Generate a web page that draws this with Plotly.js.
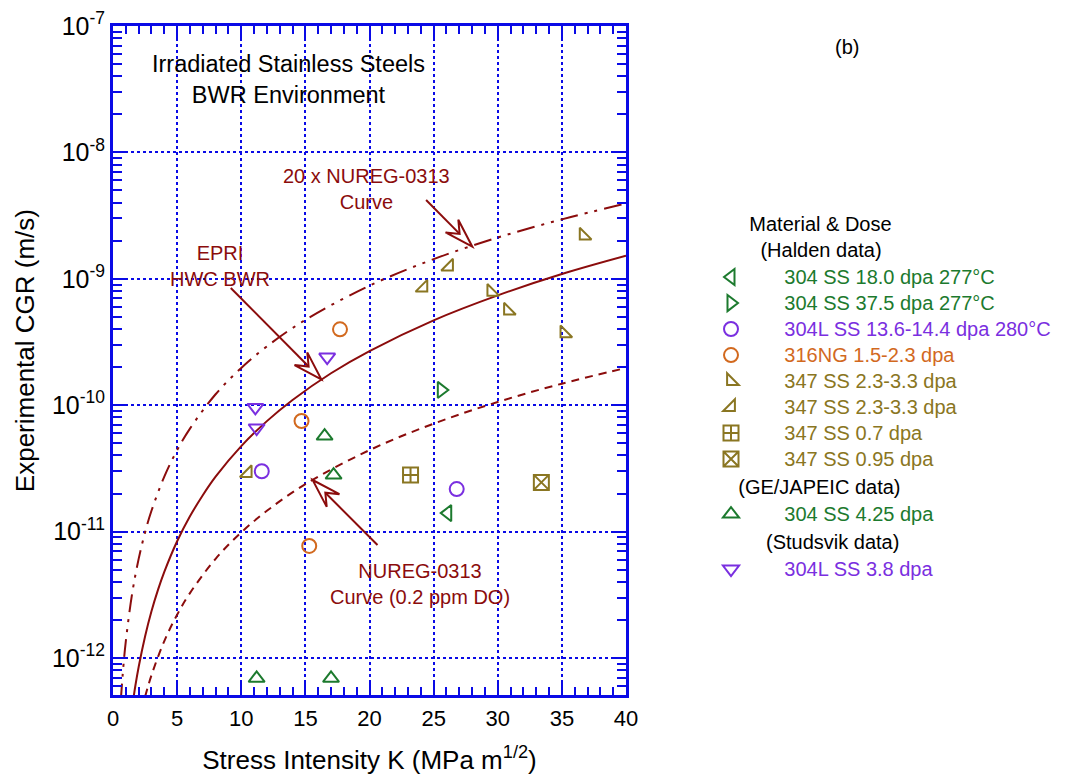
<!DOCTYPE html>
<html>
<head>
<meta charset="utf-8">
<script src="https://cdn.plot.ly/plotly-3.0.1.min.js"></script>
<style>html,body{margin:0;padding:0;background:#fff;}#chart{width:1067px;height:778px;}</style>
</head>
<body>
<div id="chart"></div>
<script>
// ---------- data ----------
// Curves (K in MPa m^1/2, CGR in m/s)
const curve20xK   = [0.6, 0.8, 1, 1.5, 2, 2.5, 3, 4, 5, 6, 8, 10, 12, 15, 20, 25, 30, 35, 40];
const curve20xCGR = [4.5e-13, 8.4e-13, 1.36e-12, 3.27e-12, 6.08e-12, 9.85e-12, 1.46e-11, 2.72e-11, 4.41e-11, 6.53e-11, 1.22e-10, 1.97e-10, 2.92e-10, 4.73e-10, 8.82e-10, 1.43e-9, 2.12e-9, 2.95e-9, 3.94e-9];
const curveEpriK   = [1.5, 1.75, 2, 2.5, 3, 3.5, 4, 5, 6, 7, 8, 10, 12, 14, 17, 20, 25, 30, 35, 40];
const curveEpriCGR = [4.13e-13, 6.08e-13, 8.49e-13, 1.48e-12, 2.34e-12, 3.44e-12, 4.8e-12, 8.39e-12, 1.32e-11, 1.94e-11, 2.72e-11, 4.74e-11, 7.48e-11, 1.10e-10, 1.79e-10, 2.68e-10, 4.69e-10, 7.39e-10, 1.09e-9, 1.52e-9];
const curveNuregK   = [2.5, 3, 4, 5, 6, 8, 10, 12, 15, 20, 25, 30, 35, 40];
const curveNuregCGR = [4.93e-13, 7.3e-13, 1.36e-12, 2.2e-12, 3.26e-12, 6.09e-12, 9.85e-12, 1.46e-11, 2.37e-11, 4.41e-11, 7.14e-11, 1.06e-10, 1.48e-10, 1.97e-10];

// Halden data
const ss304_180K = [26.1],  ss304_180CGR = [1.40e-11];
const ss304_375K = [25.6],  ss304_375CGR = [1.32e-10];
const ss304L_136K = [11.6, 26.8], ss304L_136CGR = [3.0e-11, 2.17e-11];
const ng316K = [17.7, 14.7, 15.3], ng316CGR = [3.98e-10, 7.5e-11, 7.7e-12];
const ss347aK = [36.7, 29.5, 30.8, 35.2], ss347aCGR = [2.2e-9, 7.9e-10, 5.6e-10, 3.7e-10];
const ss347bK = [26.2, 24.2, 10.5], ss347bCGR = [1.25e-9, 8.5e-10, 2.9e-11];
const ss347_07K = [23.2], ss347_07CGR = [2.8e-11];
const ss347_095K = [33.4], ss347_095CGR = [2.45e-11];
// GE/JAPEIC data
const ge304K = [16.5, 17.2, 11.2, 17.0], ge304CGR = [5.7e-11, 2.8e-11, 6.9e-13, 6.9e-13];
// Studsvik data
const st304LK = [16.7, 11.1, 11.2], st304LCGR = [2.4e-10, 9.6e-11, 6.6e-11];

// Tick labels
const xTickVals = [0, 5, 10, 15, 20, 25, 30, 35, 40];
const yTickVals = [1e-12, 1e-11, 1e-10, 1e-9, 1e-8, 1e-7];
const yTickText = ['10<sup>-12</sup>', '10<sup>-11</sup>', '10<sup>-10</sup>', '10<sup>-9</sup>', '10<sup>-8</sup>', '10<sup>-7</sup>'];

// Legend labels
const legendLabels = ['304 SS 18.0 dpa 277°C', '304 SS 37.5 dpa 277°C', '304L SS 13.6-14.4 dpa 280°C', '316NG 1.5-2.3 dpa',
  '347 SS 2.3-3.3 dpa', '347 SS 2.3-3.3 dpa', '347 SS 0.7 dpa', '347 SS 0.95 dpa', '304 SS 4.25 dpa', '304L SS 3.8 dpa'];
const groupTitles = ['Material & Dose', '(Halden data)', '(GE/JAPEIC data)', '(Studsvik data)'];

// ---------- styling ----------
const FONT = 'Liberation Sans, Arial, Helvetica, sans-serif';
const GREEN = '#1c7a2e', PURPLE = '#7a2fe0', ORANGE = '#d2691e', OLIVE = '#8a7622', DARKRED = '#8b0c0c', BLUE = '#0a0ae6';
const NB = '\u00a0';
function pad(n) { return NB.repeat(n); }

function lab(i, c) { return '<span style="color:' + c + ';font-size:20px">' + pad(6) + legendLabels[i] + '</span>'; }
function pts(x, y, sym, color, size, name, group, gtitle) {
  const t = {
    x: x, y: y, type: 'scatter', mode: 'markers', name: name,
    legendgroup: group,
    marker: {symbol: sym, size: size, color: color, line: {color: color, width: 2}},
    hoverinfo: 'x+y'
  };
  if (gtitle) t.legendgrouptitle = {text: gtitle, font: {size: 20, color: '#000', family: FONT}};
  return t;
}

const traces = [
  {x: curve20xK, y: curve20xCGR, type: 'scatter', mode: 'lines', showlegend: false, hoverinfo: 'skip',
   line: {color: DARKRED, width: 2, dash: '18px,7px,3px,7px,3px,7px', shape: 'spline'}},
  {x: curveEpriK, y: curveEpriCGR, type: 'scatter', mode: 'lines', showlegend: false, hoverinfo: 'skip',
   line: {color: DARKRED, width: 2, shape: 'spline'}},
  {x: curveNuregK, y: curveNuregCGR, type: 'scatter', mode: 'lines', showlegend: false, hoverinfo: 'skip',
   line: {color: DARKRED, width: 2, dash: '8px,6px', shape: 'spline'}},
  pts(ss304_180K, ss304_180CGR, 'triangle-left-open', GREEN, 14, lab(0, GREEN), 'halden', pad(6) + groupTitles[0] + '<br>' + pad(8) + groupTitles[1]),
  pts(ss304_375K, ss304_375CGR, 'triangle-right-open', GREEN, 14, lab(1, GREEN), 'halden'),
  pts(ss304L_136K, ss304L_136CGR, 'circle-open', PURPLE, 14, lab(2, PURPLE), 'halden'),
  pts(ng316K, ng316CGR, 'circle-open', ORANGE, 14, lab(3, ORANGE), 'halden'),
  pts(ss347aK, ss347aCGR, 'triangle-sw-open', OLIVE, 13, lab(4, OLIVE), 'halden'),
  pts(ss347bK, ss347bCGR, 'triangle-se-open', OLIVE, 13, lab(5, OLIVE), 'halden'),
  pts(ss347_07K, ss347_07CGR, 'square-cross-open', OLIVE, 15, lab(6, OLIVE), 'halden'),
  pts(ss347_095K, ss347_095CGR, 'square-x-open', OLIVE, 15, lab(7, OLIVE), 'halden'),
  pts(ge304K, ge304CGR, 'triangle-up-open', GREEN, 14, lab(8, GREEN), 'ge', pad(4) + groupTitles[2]),
  pts(st304LK, st304LCGR, 'triangle-down-open', PURPLE, 14, lab(9, PURPLE), 'studsvik', pad(9) + groupTitles[3])
];

// minor tick positions (axis decoration only)
const yMinor = [];
for (let e = -13; e <= -8; e++) for (let d = 2; d <= 9; d++) yMinor.push(d * Math.pow(10, e));

// ---------- layout geometry ----------
const M = {l: 113, r: 440, t: 26, b: 83};
const PW = 1067 - M.l - M.r, PH = 778 - M.t - M.b;
function px(x) { return (x - M.l) / PW; }
function py(y) { return (778 - M.b - y) / PH; }

// callout arrows (tail pixel -> tip pixel), drawn with an open arrowhead
const arrowDefs = [
  {tail: [426.7, 200], tip: [473, 246.7]},
  {tail: [231, 288], tip: [321.7, 379.3]},
  {tail: [378, 545], tip: [313, 480]}
];
const arrowShapes = [];
arrowDefs.forEach(a => {
  const dx = a.tip[0] - a.tail[0], dy = a.tip[1] - a.tail[1];
  const L = Math.hypot(dx, dy), ux = dx / L, uy = dy / L, nx = -uy, ny = ux;
  const HL = 29, HW = 9, NOTCH = 18;
  const b1 = [a.tip[0] - HL * ux + HW * nx, a.tip[1] - HL * uy + HW * ny];
  const b2 = [a.tip[0] - HL * ux - HW * nx, a.tip[1] - HL * uy - HW * ny];
  const nt = [a.tip[0] - NOTCH * ux, a.tip[1] - NOTCH * uy];
  const P = p => px(p[0]).toFixed(5) + ',' + py(p[1]).toFixed(5);
  arrowShapes.push({type: 'path', layer: 'above', xref: 'paper', yref: 'paper',
    path: 'M' + P(a.tail) + 'L' + P(nt), line: {color: DARKRED, width: 2}});
  arrowShapes.push({type: 'path', layer: 'above', xref: 'paper', yref: 'paper',
    path: 'M' + P(a.tip) + 'L' + P(b1) + 'L' + P(nt) + 'L' + P(b2) + 'Z',
    fillcolor: '#ffffff', line: {color: DARKRED, width: 2}});
});

const axisCommon = {
  showline: true, linecolor: BLUE, linewidth: 3, mirror: 'allticks',
  ticks: 'inside', tickcolor: BLUE, tickwidth: 2, ticklen: 14,
  showgrid: true, gridcolor: BLUE, gridwidth: 2, griddash: 'dot',
  zeroline: false
};

function txt(xp, yp, text, size, color, angle) {
  return {xref: 'paper', yref: 'paper', x: px(xp), y: py(yp), xanchor: 'center', yanchor: 'middle',
          text: text, showarrow: false, textangle: angle || 0, font: {family: FONT, size: size, color: color}};
}

const layout = {
  width: 1067, height: 778,
  margin: M,
  paper_bgcolor: '#fff', plot_bgcolor: '#fff',
  font: {family: FONT, color: '#000'},
  showlegend: true,
  legend: {x: px(711), xanchor: 'left', y: py(204), yanchor: 'top', traceorder: 'grouped',
           font: {family: FONT, size: 17.7}, tracegroupgap: 0, bgcolor: 'rgba(0,0,0,0)', itemclick: false, itemdoubleclick: false},
  xaxis: Object.assign({}, axisCommon, {
    range: [0, 40], tickmode: 'array', tickvals: xTickVals,
    tickfont: {family: FONT, size: 22, color: '#000'}, ticklabelstandoff: 2,
    minor: {dtick: 1, ticks: 'inside', ticklen: 8, tickcolor: BLUE, tickwidth: 2, showgrid: false},
    title: {text: 'Stress Intensity K (MPa m<sup>1/2</sup>)', font: {family: FONT, size: 26}, standoff: 21}
  }),
  yaxis: Object.assign({}, axisCommon, {
    type: 'log', range: [-12.293, -7], tickmode: 'array', tickvals: yTickVals, ticktext: yTickText,
    tickfont: {family: FONT, size: 25, color: '#000'},
    minor: {tickmode: 'array', tickvals: yMinor, ticks: 'inside', ticklen: 9, tickcolor: BLUE, tickwidth: 2, showgrid: false}
  }),
  shapes: [
    {type: 'rect', layer: 'between', xref: 'x', yref: 'paper', x0: 3.6, x1: 25.05, y0: py(108), y1: 1,
     fillcolor: '#fff', line: {width: 0}}
  ].concat(arrowShapes),
  annotations: [
    txt(25, 351, 'Experimental CGR (m/s)', 26, '#000', -90),
    txt(289, 79, 'Irradiated Stainless Steels<br>BWR Environment', 23.5, '#000'),
    txt(848, 47, '(b)', 20, '#000'),
    txt(367, 189, '20 x NUREG-0313<br>Curve', 20, DARKRED),
    txt(220, 266, 'EPRI<br>HWC BWR', 20, DARKRED),
    txt(421, 584, 'NUREG-0313<br>Curve (0.2 ppm DO)', 20, DARKRED)
  ]
};

Plotly.newPlot('chart', traces, layout, {displayModeBar: false, staticPlot: true});
</script>
</body>
</html>
